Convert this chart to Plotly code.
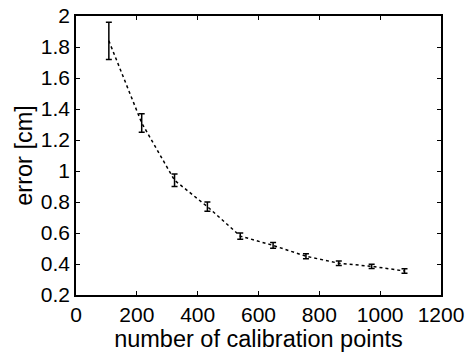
import plotly.graph_objects as go

calib_points = [108, 216, 324, 432, 540, 648, 756, 864, 972, 1080]
error_cm = [1.84, 1.31, 0.94, 0.77, 0.58, 0.52, 0.45, 0.405, 0.385, 0.355]
error_std = [0.12, 0.06, 0.04, 0.03, 0.02, 0.018, 0.016, 0.014, 0.014, 0.014]

x_ticks = [0, 200, 400, 600, 800, 1000, 1200]
y_ticks = [0.2, 0.4, 0.6, 0.8, 1.0, 1.2, 1.4, 1.6, 1.8, 2.0]
y_labels = ["0.2", "0.4", "0.6", "0.8", "1", "1.2", "1.4", "1.6", "1.8", "2"]

FONT = "Liberation Sans, Arial, Helvetica, sans-serif"

fig = go.Figure()
fig.add_trace(go.Scatter(
    x=calib_points, y=error_cm, mode="lines",
    line=dict(color="black", width=1.5, dash="dot"),
    error_y=dict(type="data", array=error_std, visible=True,
                 color="black", thickness=1.5, width=3),
    showlegend=False,
))

axis_common = dict(
    showgrid=False, zeroline=False, showline=True, linecolor="black",
    linewidth=1.5, mirror="ticks", ticks="inside", ticklen=4,
    tickcolor="black", tickwidth=1, automargin=False,
    ticklabeloverflow="allow",
    tickfont=dict(family=FONT, size=21, color="black"),
)

fig.update_layout(
    width=470, height=353,
    margin=dict(l=76, r=29, t=16, b=58, autoexpand=False),
    paper_bgcolor="white", plot_bgcolor="white",
    font=dict(family=FONT, color="black"),
    xaxis=dict(range=[0, 1200], tickvals=x_ticks,
               title=dict(text="number of calibration points", font=dict(size=23.5), standoff=0),
               **axis_common),
    yaxis=dict(range=[0.2, 2.0], tickvals=y_ticks, ticktext=y_labels,
               title=dict(text="error [cm]", font=dict(size=23.5), standoff=2),
               **axis_common),
)

# remove the default 8px page margin so the figure fills the window exactly
fig.write_html("out.html", config={"displayModeBar": False},
               post_script="document.body.style.margin='0px';")
